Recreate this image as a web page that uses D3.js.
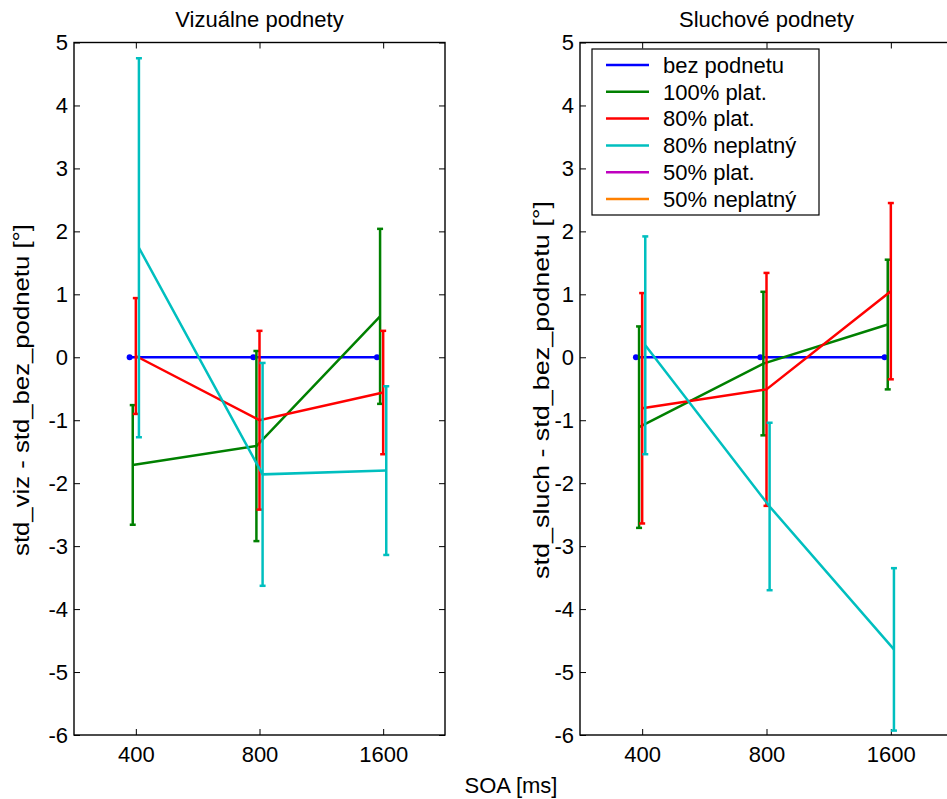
<!DOCTYPE html>
<html>
<head>
<meta charset="utf-8">
<script src="https://cdn.jsdelivr.net/npm/d3@7"></script>
<style>
  html, body { margin: 0; padding: 0; background: #fff; }
  svg { display: block; }
  text { font-family: "Liberation Sans", Arial, Helvetica, sans-serif; fill: #000; }
</style>
</head>
<body>
<svg id="chart" width="947" height="799"></svg>
<script>
// SOA conditions on the x axis
const categories = ["400", "800", "1600"];
const yTicks = [-6, -5, -4, -3, -2, -1, 0, 1, 2, 3, 4, 5];

// Legend entries and their colours
const seriesNames = ["bez podnetu", "100% plat.", "80% plat.", "80% neplatný", "50% plat.", "50% neplatný"];
const seriesColors = ["#0000ff", "#008000", "#ff0000", "#00bfbf", "#bf00bf", "#ff8000"];
// small horizontal shift per series so the error bars do not overlap
const seriesShift = [-0.05, -0.025, 0, 0.025, 0.05, 0.075];

// Visual stimuli: means and error half-widths per series (first four series)
const vizBez = [0, 0, 0];
const vizBezErr = [0, 0, 0];
const viz100 = [-1.71, -1.41, 0.65];
const viz100Err = [0.95, 1.51, 1.39];
const viz80p = [0.02, -1.00, -0.56];
const viz80pErr = [0.92, 1.42, 0.98];
const viz80n = [1.74, -1.86, -1.80];
const viz80nErr = [3.01, 1.77, 1.34];

// Auditory stimuli
const sluchBez = [0, 0, 0];
const sluchBezErr = [0, 0, 0];
const sluch100 = [-1.11, -0.10, 0.52];
const sluch100Err = [1.60, 1.14, 1.03];
const sluch80p = [-0.81, -0.51, 1.05];
const sluch80pErr = [1.83, 1.85, 1.40];
const sluch80n = [0.19, -2.37, -4.64];
const sluch80nErr = [1.73, 1.33, 1.29];

const panels = [
  {
    title: "Vizuálne podnety",
    ylabel: "std_viz - std_bez_podnetu [°]",
    ylabelLen: 332,
    ylabelX: 21,
    left: 74, right: 445,
    means: [vizBez, viz100, viz80p, viz80n],
    errs: [vizBezErr, viz100Err, viz80pErr, viz80nErr],
    legend: false
  },
  {
    title: "Sluchové podnety",
    ylabel: "std_sluch - std_bez_podnetu [°]",
    ylabelLen: 378,
    ylabelX: 541,
    left: 580, right: 953,
    means: [sluchBez, sluch100, sluch80p, sluch80n],
    errs: [sluchBezErr, sluch100Err, sluch80pErr, sluch80nErr],
    legend: true
  }
];

const plotTop = 42.5, plotBottom = 735;
const svg = d3.select("#chart");

const y = d3.scaleLinear().domain([-6, 5]).range([plotBottom, plotTop]);
// plain hyphen for negative tick labels
const fmtY = v => String(v);

panels.forEach(p => {
  const x = d3.scaleLinear().domain([0.5, 3.5]).range([p.left, p.right]);
  const g = svg.append("g");

  // inward ticks on all four sides
  const fmtX = i => categories[i - 1];
  g.append("g").attr("transform", `translate(0,${plotBottom})`)
    .call(d3.axisBottom(x).tickValues([1, 2, 3]).tickFormat(fmtX).tickSizeInner(-6).tickSizeOuter(0).tickPadding(12))
    .call(a => a.select(".domain").remove())
    .call(a => a.selectAll("text").attr("font-size", 22).attr("dy", "0.71em").attr("y", 11));
  g.append("g").attr("transform", `translate(0,${plotTop})`)
    .call(d3.axisTop(x).tickValues([1, 2, 3]).tickFormat("").tickSizeInner(-6).tickSizeOuter(0))
    .call(a => a.select(".domain").remove());
  g.append("g").attr("transform", `translate(${p.left},0)`)
    .call(d3.axisLeft(y).tickValues(yTicks).tickFormat(fmtY).tickSizeInner(-6).tickSizeOuter(0).tickPadding(6))
    .call(a => a.select(".domain").remove())
    .call(a => a.selectAll("text").attr("font-size", 22));
  g.append("g").attr("transform", `translate(${p.right},0)`)
    .call(d3.axisRight(y).tickValues(yTicks).tickFormat("").tickSizeInner(-6).tickSizeOuter(0))
    .call(a => a.select(".domain").remove());
  g.selectAll(".tick line").attr("stroke", "#000").attr("stroke-width", 1);
  g.selectAll(".tick text").attr("font-family", "Liberation Sans, Arial, sans-serif").attr("fill", "#000");

  // axes box
  g.append("rect")
    .attr("x", p.left).attr("y", plotTop)
    .attr("width", p.right - p.left).attr("height", plotBottom - plotTop)
    .attr("fill", "none").attr("stroke", "#000").attr("stroke-width", 1.4);

  // title
  g.append("text")
    .attr("x", (p.left + p.right) / 2).attr("y", 27)
    .attr("text-anchor", "middle").attr("font-size", 22)
    .text(p.title);

  // y label
  g.append("text")
    .attr("transform", `translate(${p.ylabelX + 8},390) rotate(-90)`)
    .attr("text-anchor", "middle").attr("font-size", 22)
    .attr("textLength", p.ylabelLen).attr("lengthAdjust", "spacingAndGlyphs")
    .text(p.ylabel);

  // series: lines with error bars
  const line = d3.line().x(d => d.x).y(d => d.y);
  p.means.forEach((m, si) => {
    const col = seriesColors[si];
    const pts = m.map((v, i) => ({ x: x(i + 1 + seriesShift[si]), v, e: p.errs[si][i] }));
    const sg = g.append("g");
    sg.append("path")
      .datum(pts.map(d => ({ x: d.x, y: y(d.v) })))
      .attr("d", line).attr("fill", "none")
      .attr("stroke", col).attr("stroke-width", 2.5);
    pts.forEach(d => {
      if (d.e > 0) {
        const y1 = y(d.v + d.e), y0 = y(d.v - d.e);
        sg.append("line").attr("x1", d.x).attr("x2", d.x).attr("y1", y1).attr("y2", y0)
          .attr("stroke", col).attr("stroke-width", 2.5);
        [y1, y0].forEach(yy => sg.append("line")
          .attr("x1", d.x - 3).attr("x2", d.x + 3).attr("y1", yy).attr("y2", yy)
          .attr("stroke", col).attr("stroke-width", 2.5));
      } else {
        sg.append("circle").attr("cx", d.x).attr("cy", y(d.v)).attr("r", 3).attr("fill", col);
      }
    });
  });

  if (p.legend) {
    const lx = 592, ly = 49, lw = 227, lh = 166, rowH = 26.8;
    const lg = g.append("g");
    lg.append("rect").attr("x", lx).attr("y", ly).attr("width", lw).attr("height", lh)
      .attr("fill", "#fff").attr("stroke", "#000").attr("stroke-width", 1.2);
    seriesNames.forEach((name, i) => {
      const yy = ly + 16 + i * rowH;
      lg.append("line").attr("x1", 606).attr("x2", 649).attr("y1", yy).attr("y2", yy)
        .attr("stroke", seriesColors[i]).attr("stroke-width", 2.5);
      lg.append("text").attr("x", 663).attr("y", yy).attr("dy", "0.35em")
        .attr("font-size", 22).text(name);
    });
  }
});

// shared x label
svg.append("text")
  .attr("x", 511).attr("y", 793)
  .attr("text-anchor", "middle").attr("font-size", 22)
  .text("SOA [ms]");
</script>
</body>
</html>
